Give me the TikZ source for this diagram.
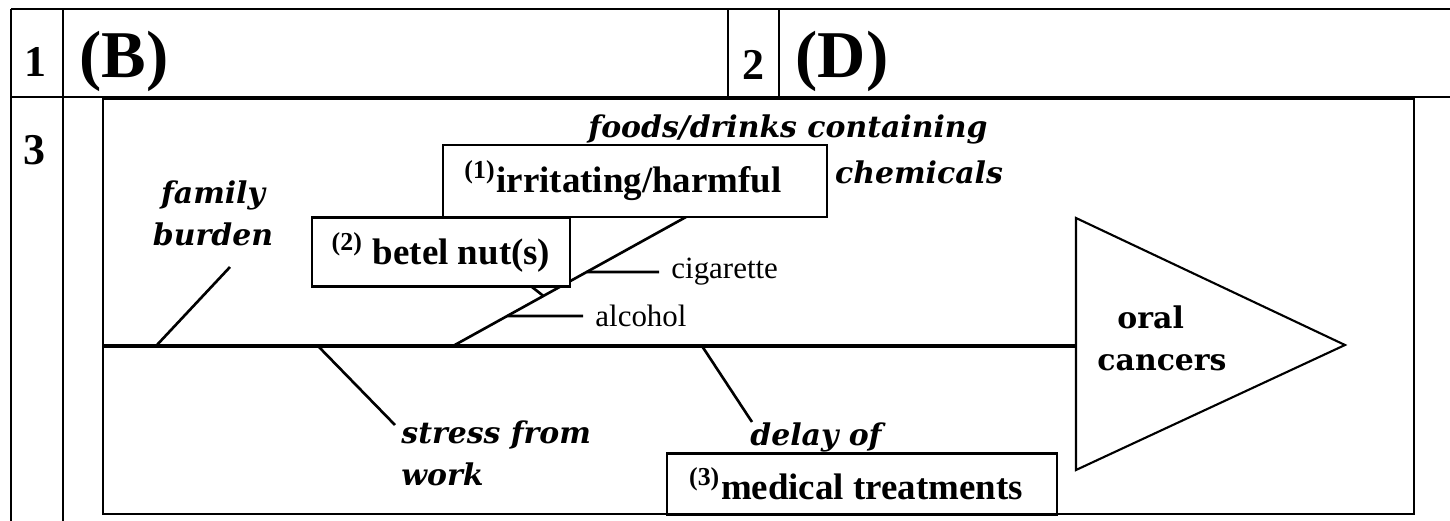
\documentclass[tikz,border=0pt]{standalone}
\usepackage{fontspec}
\setmainfont{Liberation Serif}
\newfontfamily\bkfont{DejaVu Serif}
\usetikzlibrary{positioning,calc}

\begin{document}
\begin{tikzpicture}[x = 0.01cm, y = -0.01cm,
                        grid/.style = {line width = 0.5pt},
                        frame/.style = {line width = 0.6pt},
                        bone/.style = {line width = 0.75pt},
                        spine/.style = {line width = 1.3pt},
                        cell/.style = {font = \fontsize{12.5}{14}\selectfont\bfseries},
                        answer/.style = {font = \fontsize{19}{21}\selectfont\bfseries},
                        cause/.style = {font = \bkfont\fontsize{8.5}{12}\selectfont\bfseries\itshape},
                        effect/.style = {font = \bkfont\fontsize{8.5}{12}\selectfont\bfseries, align = left},
                        fillin/.style = {draw, line width = 0.6pt, fill = white, inner sep = 0pt,
                                         font = \fontsize{10.5}{12}\selectfont\bfseries},
                        item/.style = {font = \fontsize{8.8}{10}\selectfont, anchor = west}]
        \useasboundingbox (0,0) rectangle (1450,521);

        % answer table
        \draw [grid] (11,9) -- (1450,9);
        \draw [grid] (11,97) -- (1450,97);
        \draw [grid] (11,9) -- (11,521);
        \draw [grid] (63,9) -- (63,521);
        \draw [grid] (728,9) -- (728,97);
        \draw [grid] (779,9) -- (779,97);
        \node [cell] (Q1) at (35,62) {1};
        \node [answer] (A1) at (124,61) {(B)};
        \node [cell] (Q2) at (753,65) {2};
        \node [answer] (A2) at (842,61) {(D)};
        \node [cell] (Q3) at (34,150) {3};

        % fishbone
        \draw [frame] (103,99) rectangle (1414,514);
        \coordinate (tail) at (103,346);
        \coordinate (head) at (1076,346);
        \coordinate (triT) at (1076,218);
        \coordinate (triB) at (1076,470);
        \coordinate (tip) at (1345,345);
        \draw [frame] (triT) -- (tip) -- (triB) -- cycle;
        \draw [spine] (tail) -- (head);
        \node [effect] (oral) at (1162,338) {\hspace*{0.2cm}oral\\cancers};

        \coordinate (famS) at (156,346);  \coordinate (famE) at (230,267);
        \coordinate (strS) at (318,346);  \coordinate (strE) at (395,425);
        \coordinate (chmS) at (453,346);  \coordinate (chmE) at (686,217);
        \coordinate (delS) at (702,346);  \coordinate (delE) at (752,422);
        \coordinate (cigS) at ($(chmS)!0.574!(chmE)$);
        \coordinate (alcS) at ($(chmS)!0.233!(chmE)$);
        \coordinate (betS) at ($(chmS)!0.388!(chmE)$);
        \coordinate (betE) at (532,287);

        \node [cause, align = center] (family) at (213,213) {family\\burden};
        \node [cause, align = left, anchor = west] (stress) at (389,453) {stress from\\work};
        \node [cause] (delay) at (816,437) {delay of};
        \node [cause] (foods) at (788,129) {foods/drinks containing};
        \node [cause] (chem) at (919,172) {chemicals};

        \node [item] (cig) at (659,272) {cigarette};
        \node [item] (alc) at (583,316) {alcohol};

        \draw [bone] (famS) -- (famE);
        \draw [bone] (strS) -- (strE);
        \draw [bone] (delS) -- (delE);
        \draw [bone] (chmS) -- (chmE);
        \draw [bone] (cigS) -- (cig.west);
        \draw [bone] (alcS) -- (alc.west);
        \draw [bone] (betS) -- (betE);

        \node [fillin, minimum width = 3.84cm, minimum height = 0.72cm] (irr) at (635,181) {\textsuperscript{(1)}irritating/harmful\hspace*{0.24cm}};
        \node [fillin, minimum width = 2.58cm, minimum height = 0.69cm] (betel) at (441,252) {\textsuperscript{(2)} betel nut(s)};
        \node [fillin, minimum width = 3.89cm, minimum height = 0.61cm] (med) at (862,484) {\textsuperscript{(3)}medical treatments\hspace*{0.12cm}};
        \end{tikzpicture}
\end{document}
